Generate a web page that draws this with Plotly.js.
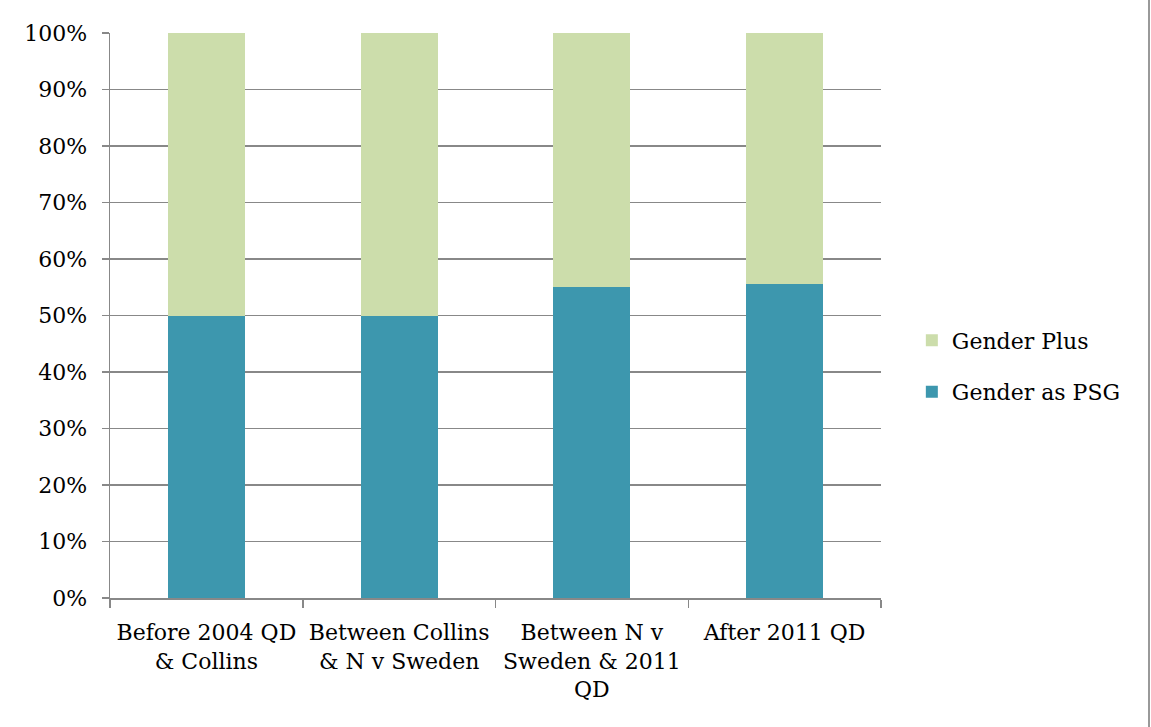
<!DOCTYPE html>
<html><head><meta charset="utf-8">
<script src="https://cdn.plot.ly/plotly-3.0.1.min.js"></script>
<style>
html,body{margin:0;padding:0;background:#fff;}
#wrap{position:relative;width:1151px;height:727px;}
#chart{width:1151px;height:727px;}
#edge{position:absolute;left:1148px;top:0;width:2px;height:727px;background:#999;}
</style></head>
<body><div id="wrap"><div id="chart"></div><div id="edge"></div></div>
<script>
const categories = ["Before 2004 QD<br>& Collins", "Between Collins<br>& N v Sweden", "Between N v<br>Sweden & 2011<br>QD", "After 2011 QD"];
const genderAsPSG = [0.50, 0.50, 0.55, 0.555];
const genderPlus = [0.50, 0.50, 0.45, 0.445];

const font = {family: "DejaVu Serif, serif", size: 22, color: "#000"};
const traces = [
  {type: "bar", name: "Gender as PSG", x: categories, y: genderAsPSG, marker: {color: "#3D97AE"}, legendgroup: "a", legendrank: 2, hoverinfo: "skip"},
  {type: "bar", name: "Gender Plus", x: categories, y: genderPlus, marker: {color: "#CCDDAB"}, legendgroup: "b", legendrank: 1, hoverinfo: "skip"}
];
const layout = {
  width: 1151, height: 727,
  barmode: "stack", bargap: 0.6,
  margin: {l: 110, r: 270, t: 33, b: 129},
  paper_bgcolor: "#fff", plot_bgcolor: "#fff",
  font: font,
  showlegend: true,
  legend: {x: 1.04, y: 0.41, yanchor: "middle", xanchor: "left", traceorder: "grouped", tracegroupgap: 20, font: font, itemwidth: 30},
  xaxis: {type: "category", tickson: "boundaries", ticks: "outside", ticklen: 8, tickcolor: "#888", tickwidth: 1.5,
          showline: true, linecolor: "#888", linewidth: 1.5, showgrid: false, tickfont: font, ticklabelstandoff: 14, automargin: false},
  yaxis: {range: [0, 1], dtick: 0.1, tickformat: ".0%", ticks: "outside", ticklen: 7, tickcolor: "#888", tickwidth: 1.5,
          showline: true, linecolor: "#888", linewidth: 1.5, showgrid: true, gridcolor: "#888", gridwidth: 1.2,
          zeroline: false, tickfont: font, ticklabelstandoff: 10, automargin: false}
};
Plotly.newPlot("chart", traces, layout, {staticPlot: true});
</script></body></html>
